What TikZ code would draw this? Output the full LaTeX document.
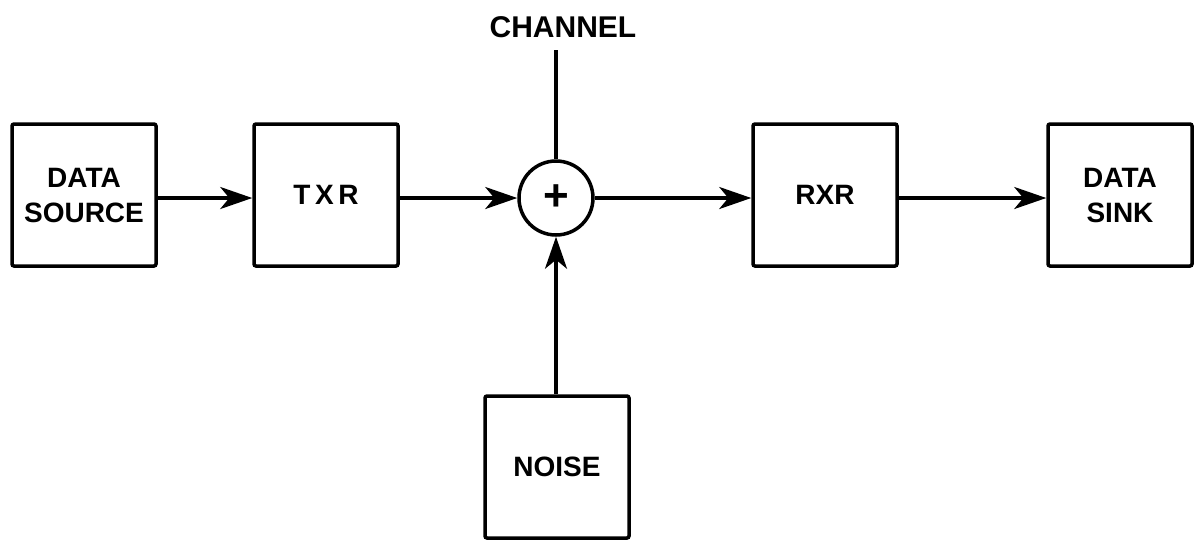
\documentclass[tikz,border=0pt]{standalone}
\usepackage{fontspec}
\setmainfont{Liberation Sans}
\usetikzlibrary{arrows.meta}
\begin{document}
\begin{tikzpicture}[x=1pt,y=-1pt,
  blk/.style={draw,line width=3.5pt,rounded corners=2pt,minimum width=144pt,minimum height=142pt,inner sep=0pt,align=center,font=\fontsize{28}{35}\selectfont\bfseries},
  conn/.style={line width=3.5pt,-{Stealth[length=32pt,width=22pt,inset=9pt]}},
  plain/.style={line width=3.5pt}]
\useasboundingbox (0,0) rectangle (1200,542);
\node[blk] (src) at (84,195) {DATA\\SOURCE};
\node[blk] (txr) at (326,195) {T\,X\,R};
\node[draw,circle,line width=3.5pt,minimum size=74pt,inner sep=0pt,font=\fontsize{44}{44}\selectfont\bfseries] (sum) at (556,198) {+};
\node[blk] (rxr) at (825,195) {RXR};
\node[blk] (snk) at (1120,195) {DATA\\SINK};
\node[blk] (noise) at (557,467) {NOISE};
\node[font=\fontsize{30}{32}\selectfont\bfseries] (chan) at (563,27) {CHANNEL};
\coordinate (ctop) at (556,50);
\draw[conn] (src.east |- 0,198) -- (txr.west |- 0,198);
\draw[conn] (txr.east |- 0,198) -- (sum.west);
\draw[conn] (sum.east) -- (rxr.west |- 0,198);
\draw[conn] (rxr.east |- 0,198) -- (snk.west |- 0,198);
\draw[conn] (noise.north -| sum.south) -- (sum.south);
\draw[plain] (ctop) -- (sum.north);
\end{tikzpicture}
\end{document}
